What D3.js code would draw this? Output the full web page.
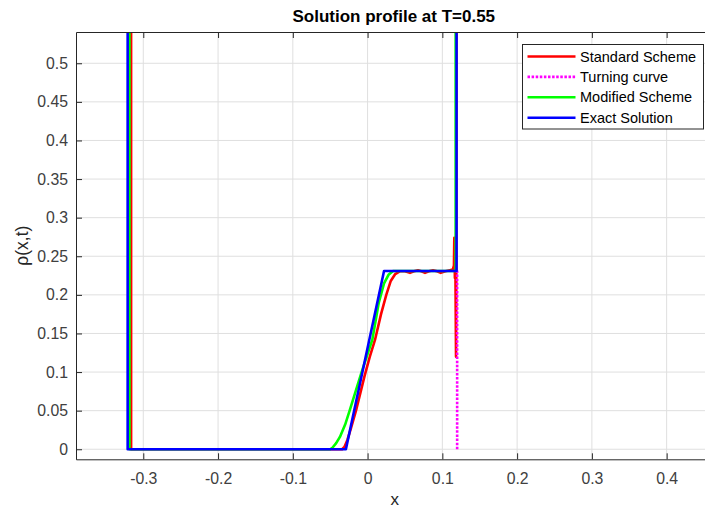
<!DOCTYPE html>
<html>
<head>
<meta charset="utf-8">
<script src="https://cdn.jsdelivr.net/npm/d3@7"></script>
<style>
  body { margin: 0; background: #fff; }
  text { font-family: "Liberation Sans", Arial, sans-serif; }
</style>
</head>
<body>
<script>
// tick values
const xTicks = [-0.3, -0.2, -0.1, 0, 0.1, 0.2, 0.3, 0.4]
const yTicks = [0, 0.05, 0.1, 0.15, 0.2, 0.25, 0.3, 0.35, 0.4, 0.45, 0.5]

// Standard Scheme (red)
const stdX = [-0.3163, -0.3163, -0.034, -0.031, -0.027, -0.022, -0.0155, -0.004, 0.003, 0.0099, 0.018, 0.025, 0.031, 0.037, 0.043,
  0.050, 0.0567, 0.062, 0.0674, 0.072, 0.0768, 0.082, 0.0875, 0.093, 0.0978, 0.104, 0.1102, 0.114, 0.1155, 0.116, 0.1168, 0.1175, 0.1183, 0.1186, 0.119]
const stdY = [0.8, 0, 0, 0.003, 0.012, 0.028, 0.05, 0.095, 0.12, 0.1416, 0.175, 0.2, 0.218, 0.227, 0.2305,
  0.2305, 0.2285, 0.2305, 0.2318, 0.2305, 0.2285, 0.2305, 0.2318, 0.2305, 0.2285, 0.2305, 0.232, 0.233, 0.238, 0.274, 0.222, 0.232, 0.12, 0.2, 0.8]

// Turning curve (magenta dotted)
const turnX = [0.1198, 0.1198]
const turnY = [0, 0.232]

// Modified Scheme (green)
const modX = [-0.3185, -0.3185, -0.050, -0.047, -0.042, -0.037, -0.030, -0.024, -0.008, 0.0063, 0.015, 0.022, 0.028, 0.034, 0.1178, 0.1178]
const modY = [0.8, 0, 0, 0.002, 0.008, 0.016, 0.032, 0.05, 0.1, 0.1416, 0.19, 0.215, 0.226, 0.231, 0.231, 0.8]

// Exact Solution (blue)
const exactX = [-0.3209, -0.3209, -0.029, 0.022, 0.119, 0.119]
const exactY = [0.8, 0, 0, 0.231, 0.231, 0.8]

const series = [
  { name: "Standard Scheme", xs: stdX, ys: stdY, color: "#ff0000", dash: null },
  { name: "Turning curve", xs: turnX, ys: turnY, color: "#ff00ff", dash: "2.5,1.6" },
  { name: "Modified Scheme", xs: modX, ys: modY, color: "#00ff00", dash: null },
  { name: "Exact Solution", xs: exactX, ys: exactY, color: "#0000ff", dash: null }
]

const W = 705, H = 509
const mLeft = 76, mRight = 711.5, mTop = 32, mBottom = 459.3

const x = d3.scaleLinear().domain([-0.39, 0.46]).range([mLeft, mRight])
const y = d3.scaleLinear().domain([-0.013, 0.5405]).range([mBottom, mTop])

const svg = d3.select("body").append("svg")
  .attr("width", W)
  .attr("height", H)

svg.append("defs").append("clipPath").attr("id", "clip")
  .append("rect")
  .attr("x", mLeft).attr("y", mTop)
  .attr("width", mRight - mLeft).attr("height", mBottom - mTop)

// grid
const grid = svg.append("g")
grid.selectAll(".gx").data(xTicks).enter().append("line")
  .attr("x1", d => x(d)).attr("x2", d => x(d))
  .attr("y1", mTop).attr("y2", mBottom)
  .attr("stroke", "#dfdfdf").attr("stroke-width", 1)
grid.selectAll(".gy").data(yTicks).enter().append("line")
  .attr("x1", mLeft).attr("x2", mRight)
  .attr("y1", d => y(d)).attr("y2", d => y(d))
  .attr("stroke", "#dfdfdf").attr("stroke-width", 1)

// curves
const line = d3.line().x(d => x(d[0])).y(d => y(d[1]))
const plot = svg.append("g").attr("clip-path", "url(#clip)")
series.forEach(s => {
  const pts = s.xs.map((v, i) => [v, s.ys[i]])
  plot.append("path")
    .attr("d", line(pts))
    .attr("fill", "none")
    .attr("stroke", s.color)
    .attr("stroke-width", 2.6)
    .attr("stroke-linejoin", "round")
    .attr("stroke-dasharray", s.dash)
})

// axes (ticks inside, box)
const axisColor = "#262626"
const xAxis = svg.append("g").attr("transform", `translate(0,${mBottom})`)
  .call(d3.axisBottom(x).tickValues(xTicks).tickSizeInner(-6).tickSizeOuter(0).tickPadding(13.5)
    .tickFormat(d => d3.format("")(d).replace("−", "-")))
const xAxisTop = svg.append("g").attr("transform", `translate(0,${mTop})`)
  .call(d3.axisTop(x).tickValues(xTicks).tickSizeInner(-6).tickSizeOuter(0).tickFormat(""))
const yAxis = svg.append("g").attr("transform", `translate(${mLeft},0)`)
  .call(d3.axisLeft(y).tickValues(yTicks).tickSizeInner(-6).tickSizeOuter(0).tickPadding(8)
    .tickFormat(d => d3.format("")(d)))

;[xAxis, xAxisTop, yAxis].forEach(a => {
  a.select(".domain").attr("stroke", axisColor)
  a.selectAll(".tick line").attr("stroke", axisColor)
  a.selectAll(".tick text")
    .attr("fill", "#404040")
    .style("font-size", "15.8px")
    .style("font-family", "'Liberation Sans', Arial, sans-serif")
})

// title and labels
svg.append("text")
  .attr("x", (mLeft + mRight) / 2)
  .attr("y", 22)
  .attr("text-anchor", "middle")
  .style("font-size", "17px")
  .style("font-weight", "bold")
  .attr("fill", "#000")
  .text("Solution profile at T=0.55")

svg.append("text")
  .attr("x", (mLeft + mRight) / 2 + 1)
  .attr("y", 505)
  .attr("text-anchor", "middle")
  .style("font-size", "17px")
  .attr("fill", "#262626")
  .text("x")

svg.append("text")
  .attr("transform", `translate(28,${(mTop + mBottom) / 2}) rotate(-90)`)
  .attr("text-anchor", "middle")
  .style("font-size", "17.5px")
  .attr("fill", "#262626")
  .text("ρ(x,t)")

// legend
const lg = svg.append("g")
lg.append("rect")
  .attr("x", 522.5).attr("y", 44.5)
  .attr("width", 181).attr("height", 84.5)
  .attr("fill", "#fff").attr("stroke", axisColor).attr("stroke-width", 1)
series.forEach((s, i) => {
  const cy = 56.5 + i * 20.4
  lg.append("line")
    .attr("x1", 527.5).attr("x2", 575.5)
    .attr("y1", cy).attr("y2", cy)
    .attr("stroke", s.color).attr("stroke-width", 2.6)
    .attr("stroke-dasharray", s.dash)
  lg.append("text")
    .attr("x", 580).attr("y", cy + 5)
    .style("font-size", "14.5px")
    .attr("fill", "#000")
    .text(s.name)
})
</script>
</body>
</html>
